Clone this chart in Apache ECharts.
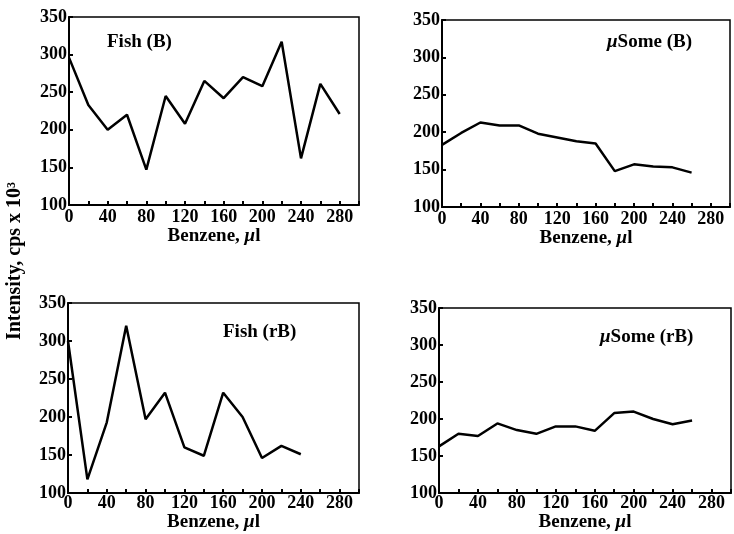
<!DOCTYPE html>
<html><head><meta charset="utf-8">
<script src="https://cdn.jsdelivr.net/npm/echarts@6/dist/echarts.min.js"></script>
<style>html,body{margin:0;padding:0;background:#fff}#c{width:734px;height:534px}</style>
</head><body><div id="c"></div>
<script>
var panelTitles = ['Fish (B)', '{i|μ}Some (B)', 'Fish (rB)', '{i|μ}Some (rB)'];
var xTickLabels = [0, 40, 80, 120, 160, 200, 240, 280];
var yTickLabels = [100, 150, 200, 250, 300, 350];
var fishB_x = [0,20,40,60,80,100,120,140,160,180,200,220,240,260,280];
var fishB_y = [296,233,200,220,147,245,208,265,242,270,258,317,162,261,221];
var someB_x = [0,20,40,60,80,100,120,140,160,180,200,220,240,260];
var someB_y = [183,199,213,209,209,198,193,188,185,148,157,154,153,146];
var fishRB_x = [0,20,40,60,80,100,120,140,160,180,200,220,240];
var fishRB_y = [300,118,193,320,197,232,160,149,232,200,146,162,151];
var someRB_x = [0,20,40,60,80,100,120,140,160,180,200,220,240,260];
var someRB_y = [163,180,177,194,185,180,190,190,184,208,210,200,193,198];
var xName = 'Benzene, {i|μ}l';
var yName = 'Intensity, cps x 10³';

var font = 'Liberation Serif';
function pairs(xs, ys){ return xs.map(function(x,i){return [x, ys[i]];}); }
var seriesData = [pairs(fishB_x,fishB_y), pairs(someB_x,someB_y), pairs(fishRB_x,fishRB_y), pairs(someRB_x,someRB_y)];
var grids = [
  {left:69, top:17, width:290, height:188},
  {left:442, top:20, width:288, height:187},
  {left:68, top:303, width:291, height:190},
  {left:439, top:308, width:292, height:185}
];
var titlePos = [
  {left:107, top:33}, {left:607, top:33}, {left:223, top:323}, {left:600, top:328}
];
var nameGaps = [21, 21, 17, 17];
var labelMargins = [3, 3, 1, 1];
var richItalic = {i:{fontFamily:font, fontWeight:'bold', fontStyle:'italic', fontSize:19, color:'#000'}};
var xAxes = [], yAxes = [], series = [], titles = [];
grids.forEach(function(g, i){
  g.show = true; g.borderColor = '#000'; g.borderWidth = 1.5; g.containLabel = false;
  g.outerBoundsMode = 'none';
  xAxes.push({
    type:'value', gridIndex:i, min:0, max:300, interval:20,
    name: xName, nameLocation:'middle', nameGap:nameGaps[i],
    nameTextStyle:{fontFamily:font, fontWeight:'bold', fontSize:19, color:'#000', rich:richItalic},
    axisLine:{show:true, onZero:false, lineStyle:{color:'#000', width:2}},
    axisTick:{show:true, inside:true, length:4, lineStyle:{color:'#000', width:2}},
    axisLabel:{fontFamily:font, fontWeight:'bold', fontSize:18, color:'#000', margin:labelMargins[i],
      formatter:function(v){ return xTickLabels.indexOf(v) >= 0 ? String(v) : ''; }},
    splitLine:{show:false}
  });
  yAxes.push({
    type:'value', gridIndex:i, min:100, max:350, interval:50,
    axisLine:{show:true, lineStyle:{color:'#000', width:2}},
    axisTick:{show:true, inside:true, length:4, lineStyle:{color:'#000', width:2}},
    axisLabel:{fontFamily:font, fontWeight:'bold', fontSize:18, color:'#000', margin:2,
      formatter:function(v){ return yTickLabels.indexOf(v) >= 0 ? String(v) : ''; }},
    splitLine:{show:false}
  });
  series.push({
    type:'line', xAxisIndex:i, yAxisIndex:i, data:seriesData[i], showSymbol:false, symbol:'none',
    lineStyle:{color:'#000', width:2.5}, animation:false
  });
  titles.push({text: panelTitles[i], left: titlePos[i].left, top: titlePos[i].top, padding:0,
    textStyle:{fontFamily:font, fontWeight:'bold', fontSize:19, color:'#000', rich:richItalic}});
});
var chart = echarts.init(document.getElementById('c'), null, {renderer:'canvas'});
chart.setOption({
  animation:false,
  backgroundColor:'#fff',
  title: titles,
  grid: grids,
  xAxis: xAxes,
  yAxis: yAxes,
  series: series,
  graphic: [{
    type:'text', x:5, y:261, rotation:Math.PI/2, originX:0, originY:0,
    style:{text:yName, fontFamily:font, fontWeight:'bold', fontSize:20, fill:'#000', textAlign:'center', textVerticalAlign:'top'}
  }]
});
</script></body></html>
